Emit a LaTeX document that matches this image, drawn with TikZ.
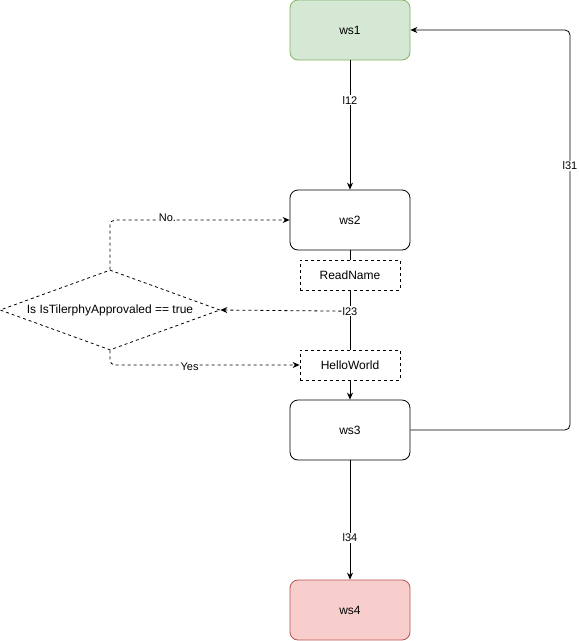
\documentclass[tikz,border=0pt]{standalone}
\usepackage{fontspec}
\setmainfont{Liberation Sans}
\usetikzlibrary{arrows.meta, shapes.geometric}

\definecolor{startfill}{HTML}{D5E8D4}
\definecolor{startline}{HTML}{82B366}
\definecolor{endfill}{HTML}{F8CECC}
\definecolor{endline}{HTML}{B85450}

\tikzset{
    ws/.style={draw, rounded corners=8pt, line width=0.8pt, minimum width=120pt,
        minimum height=60pt, font=\fontsize{12}{14}\selectfont},
    act/.style={draw, fill=white, line width=0.8pt, dash pattern=on 3pt off 3pt,
        minimum width=100pt, minimum height=30pt, font=\fontsize{12}{14}\selectfont},
    lbl/.style={fill=white, inner sep=1pt, font=\fontsize{11}{13}\selectfont},
    flow/.style={line width=0.8pt, -{Stealth[length=7pt, width=6pt]}},
}

\begin{document}
\begin{tikzpicture}[x=1pt, y=-1pt]
    \useasboundingbox (0, 0) rectangle (579, 641);

    % states
    \node[ws, fill=startfill, draw=startline] (ws1) at (350, 30) {ws1};
    \node[ws] (ws2) at (350, 220) {ws2};
    \node[ws] (ws3) at (350, 430) {ws3};
    \node[ws, fill=endfill, draw=endline] (ws4) at (350, 610) {ws4};

    % actions on l23
    \node[act] (readname) at (350, 275) {ReadName};
    \node[act] (helloworld) at (350, 365) {HelloWorld};

    % condition
    \node[diamond, draw, line width=0.8pt, dash pattern=on 3pt off 3pt,
        aspect=2.75, minimum width=220pt, minimum height=80pt, inner sep=0pt,
        font=\fontsize{12}{14}\selectfont] (cond) at (110, 310) {Is IsTilerphyApprovaled == true};

    % transitions
    \draw[flow] (ws1) -- node[lbl, pos=0.31] {l12} (ws2);
    \draw[line width=0.8pt] (ws2) -- (readname);
    \draw[line width=0.8pt] (readname) -- node[lbl, pos=0.35] (l23) {l23} (helloworld);
    \draw[flow] (helloworld) -- (ws3);
    \draw[flow] (ws3) -- node[lbl, pos=0.65] {l34} (ws4);
    \draw[flow, rounded corners=5pt] (ws3.east) -- (570, 430)
        -- node[lbl, pos=0.66] {l31} (570, 30) -- (ws1.east);

    % branches
    \draw[flow, dash pattern=on 3pt off 3pt] (l23.west) -- (cond.east);
    \draw[flow, dash pattern=on 3pt off 3pt, rounded corners=5pt] (cond.north) -- (110, 220)
        -- node[lbl, pos=0.32, yshift=2pt] {No.} (ws2.west);
    \draw[flow, dash pattern=on 3pt off 3pt, rounded corners=5pt] (cond.south) -- (110, 365)
        -- node[lbl, pos=0.42, yshift=-2pt] {Yes} (helloworld.west);
\end{tikzpicture}
\end{document}
